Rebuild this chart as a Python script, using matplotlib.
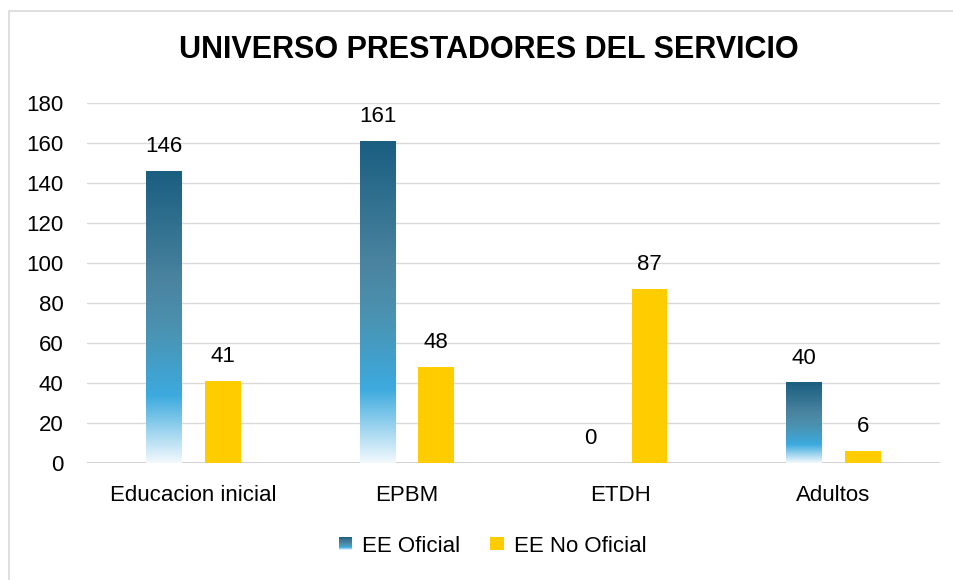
import matplotlib
matplotlib.use("Agg")
import matplotlib.pyplot as plt
import numpy as np
from matplotlib.colors import LinearSegmentedColormap
from matplotlib.patches import Rectangle
from matplotlib.legend_handler import HandlerBase

categories = ["Educacion inicial", "EPBM", "ETDH", "Adultos"]
oficial = [146, 161, 0, 40]
no_oficial = [41, 48, 87, 6]
series_names = ["EE Oficial", "EE No Oficial"]

plt.rcParams['font.family'] = ['Liberation Sans', 'DejaVu Sans']

blue_cmap = LinearSegmentedColormap.from_list(
    "blue_grad",
    [(0.0, "#f2f9fd"), (0.23, "#3caade"), (0.45, "#4a93b2"),
     (0.62, "#4a84a0"), (1.0, "#1a5e80")])
yellow = "#ffcc00"


class GradientHandler(HandlerBase):
    def create_artists(self, legend, orig_handle, xdescent, ydescent,
                       width, height, fontsize, trans):
        side = height * 0.85
        x0 = -xdescent + (width - side) / 2
        y0 = -ydescent + (height - side) / 2
        n = 12
        arts = []
        for i in range(n):
            r = Rectangle((x0, y0 + side * i / n), side, side / n + 0.2,
                          facecolor=blue_cmap((i + 0.5) / n), edgecolor='none',
                          transform=trans)
            arts.append(r)
        return arts


class SquareHandler(HandlerBase):
    def create_artists(self, legend, orig_handle, xdescent, ydescent,
                       width, height, fontsize, trans):
        side = height * 0.85
        x0 = -xdescent + (width - side) / 2
        y0 = -ydescent + (height - side) / 2
        return [Rectangle((x0, y0), side, side, facecolor=yellow,
                          edgecolor='none', transform=trans)]


fig = plt.figure(figsize=(9.54, 5.8), dpi=100)
fig.patches.append(Rectangle((9 / 954, -0.1), 1.2, (569 + 58) / 580,
                             transform=fig.transFigure, fill=False,
                             edgecolor="#d9d9d9", linewidth=1.2))
ax = fig.add_axes([87 / 954, 117 / 580, 853 / 954, 360 / 580])

x = np.arange(len(categories))
w = 0.168
off = 0.138

grad = np.linspace(0, 1, 256).reshape(-1, 1)
for xi, v in zip(x, oficial):
    if v > 0:
        ax.imshow(grad, cmap=blue_cmap, origin='lower', aspect='auto',
                  extent=[xi - off - w / 2, xi - off + w / 2, 0, v], zorder=3)
    ax.text(xi - off, v + 7, str(v), ha='center', va='bottom', fontsize=16,
            color="#000000")

ax.bar(x + off, no_oficial, w, color=yellow, zorder=3)
for xi, v in zip(x, no_oficial):
    ax.text(xi + off, v + 7, str(v), ha='center', va='bottom', fontsize=16,
            color="#000000")

ax.set_xlim(-0.5, len(categories) - 0.5)
ax.set_ylim(0, 180)
ax.set_yticks(range(0, 181, 20))
ax.set_xticks(x)
ax.set_xticklabels(categories)
ax.tick_params(axis='both', length=0, labelsize=16)
ax.tick_params(axis='y', pad=17)
ax.tick_params(axis='x', pad=16)
ax.grid(axis='y', color="#d9d9d9", linewidth=1.0, zorder=0)
ax.set_axisbelow(True)
for s in ax.spines.values():
    s.set_visible(False)
ax.axhline(0, color="#cfcfcf", linewidth=1.3, zorder=2)

fig.text(489 / 954, 1 - 50 / 580, "UNIVERSO PRESTADORES DEL SERVICIO",
         ha='center', va='center', fontsize=22, fontweight='bold')

h1 = Rectangle((0, 0), 1, 1)
h2 = Rectangle((0, 0), 1, 1)
fig.legend([h1, h2], series_names, loc='center', ncol=2,
           bbox_to_anchor=(492 / 954, 1 - 546 / 580), frameon=False,
           fontsize=16, handler_map={h1: GradientHandler(), h2: SquareHandler()},
           handlelength=0.7, handletextpad=0.4, columnspacing=1.3)

fig.savefig("out.png", dpi=100)
